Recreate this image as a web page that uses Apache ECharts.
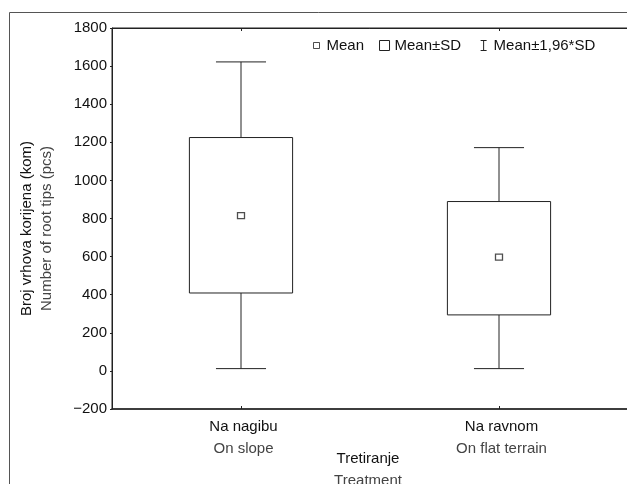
<!DOCTYPE html>
<html>
<head>
<meta charset="utf-8">
<script src="https://cdn.jsdelivr.net/npm/echarts@6/dist/echarts.min.js"></script>
<style>
html,body{margin:0;padding:0;background:#fff;}
#chart{width:627px;height:484px;}
</style>
</head>
<body>
<div id="chart"></div>
<script>
// ---- data ----
const categories = ['Na nagibu', 'Na ravnom'];
const categoriesEn = ['On slope', 'On flat terrain'];
const means = [815, 597];
const sdLow = [409, 294];
const sdHigh = [1225, 889];
const ciLow = [12, 12];
const ciHigh = [1622, 1172];
const yMin = -200, yMax = 1800, yStep = 200;
const legendNames = ['Mean', 'Mean±SD', 'Mean±1,96*SD'];

const FONT = '"Liberation Sans", Arial, sans-serif';
const DARK = '#111';
const SOFT = '#444';
const LINE = '#222';

const boxData = categories.map((c, i) => [i, sdLow[i], sdHigh[i]]);
const whiskerData = categories.map((c, i) => [i, ciLow[i], sdLow[i], sdHigh[i], ciHigh[i]]);
const meanData = categories.map((c, i) => [i, means[i]]);

const chart = echarts.init(document.getElementById('chart'));

const option = {
  animation: false,
  backgroundColor: '#fff',
  textStyle: { fontFamily: FONT },
  graphic: [{
    type: 'rect',
    left: 7, top: 10, z: -10,
    shape: { x: 0, y: 0, width: 700, height: 600 },
    style: { fill: 'none', stroke: '#555', lineWidth: 1 }
  }],
  legend: {
    left: 311, top: 38, padding: 0,
    itemWidth: 10, itemHeight: 10, itemGap: 15,
    textStyle: { fontFamily: FONT, fontSize: 15, color: DARK },
    data: [
      { name: legendNames[0], icon: 'path://M0 0M10 10M2 2h6v6h-6z',
        itemStyle: { color: '#fff', borderColor: LINE, borderWidth: 1 } },
      { name: legendNames[1], icon: 'path://M0.5 0.5h9v9h-9z',
        itemStyle: { color: '#fff', borderColor: LINE, borderWidth: 1 } },
      { name: legendNames[2], icon: 'path://M0 0M10 10M2 0h6M5 0v10M2 10h6',
        itemStyle: { color: 'none', borderColor: LINE, borderWidth: 1 } }
    ]
  },
  grid: {
    left: 112, top: 28, bottom: 75, right: -1,
    outerBoundsMode: 'none',
    containLabel: false,
    show: true, borderColor: LINE, borderWidth: 1, backgroundColor: 'transparent'
  },
  xAxis: [{
    type: 'category',
    data: categories,
    position: 'bottom',
    boundaryGap: true,
    axisLine: { show: true, onZero: false, lineStyle: { color: LINE, width: 1.5 } },
    axisTick: { show: true, inside: true, length: 3, alignWithLabel: true, lineStyle: { color: LINE } },
    axisLabel: {
      margin: 7,
      padding: [0, 0, 0, 5],
      formatter: (v, i) => '{a|' + v + '}\n{b|' + categoriesEn[i] + '}',
      rich: {
        a: { fontFamily: FONT, fontSize: 15, color: DARK, lineHeight: 22 },
        b: { fontFamily: FONT, fontSize: 15, color: SOFT, lineHeight: 22 }
      }
    },
    splitLine: { show: false },
    name: '{a|Tretiranje}\n{b|Treatment}',
    nameLocation: 'middle',
    nameGap: 39,
    nameMoveOverlap: false,
    nameTextStyle: {
      padding: [0, 4, 0, 0],
      rich: {
        a: { fontFamily: FONT, fontSize: 15, color: DARK, lineHeight: 22 },
        b: { fontFamily: FONT, fontSize: 15, color: SOFT, lineHeight: 22 }
      }
    }
  }, {
    type: 'category',
    data: categories,
    position: 'top',
    boundaryGap: true,
    axisLine: { show: true, onZero: false, lineStyle: { color: LINE, width: 1 } },
    axisTick: { show: true, inside: true, length: 3, alignWithLabel: true, lineStyle: { color: LINE } },
    axisLabel: { show: false }
  }],
  yAxis: [{
    type: 'value',
    min: yMin, max: yMax, interval: yStep,
    axisLine: { show: true, onZero: false, lineStyle: { color: LINE, width: 1 } },
    axisTick: { show: true, length: 2, lineStyle: { color: LINE } },
    splitLine: { show: false },
    axisLabel: {
      margin: 5,
      fontFamily: FONT, fontSize: 15, color: DARK,
      formatter: v => (v < 0 ? '\u2212' + Math.abs(v) : String(v))
    },
    name: '{a|Broj vrhova korijena (kom)}\n{b|Number of root tips (pcs)}',
    nameLocation: 'middle',
    nameGap: 55,
    nameMoveOverlap: false,
    nameTextStyle: {
      padding: [0, 20, 0, 0],
      rich: {
        a: { fontFamily: FONT, fontSize: 15, color: DARK, lineHeight: 20 },
        b: { fontFamily: FONT, fontSize: 15, color: SOFT, lineHeight: 20 }
      }
    }
  }],
  series: [{
    name: legendNames[2],
    type: 'custom',
    data: whiskerData,
    encode: { x: 0, y: [1, 2, 3, 4] },
    z: 2,
    renderItem: (params, api) => {
      const idx = api.value(0);
      const band = api.size([1, 0])[0];
      const half = band * 0.097;
      const pLow = api.coord([idx, api.value(1)]);
      const pBoxLow = api.coord([idx, api.value(2)]);
      const pBoxHigh = api.coord([idx, api.value(3)]);
      const pHigh = api.coord([idx, api.value(4)]);
      const st = { stroke: LINE, lineWidth: 1 };
      return {
        type: 'group',
        children: [
          { type: 'line', shape: { x1: pHigh[0], y1: pHigh[1], x2: pBoxHigh[0], y2: pBoxHigh[1] }, style: st },
          { type: 'line', shape: { x1: pLow[0], y1: pLow[1], x2: pBoxLow[0], y2: pBoxLow[1] }, style: st },
          { type: 'line', shape: { x1: pHigh[0] - half, y1: pHigh[1], x2: pHigh[0] + half, y2: pHigh[1] }, style: st },
          { type: 'line', shape: { x1: pLow[0] - half, y1: pLow[1], x2: pLow[0] + half, y2: pLow[1] }, style: st }
        ]
      };
    }
  }, {
    name: legendNames[1],
    type: 'custom',
    data: boxData,
    encode: { x: 0, y: [1, 2] },
    z: 3,
    renderItem: (params, api) => {
      const idx = api.value(0);
      const band = api.size([1, 0])[0];
      const w = band * 0.4;
      const pLow = api.coord([idx, api.value(1)]);
      const pHigh = api.coord([idx, api.value(2)]);
      return {
        type: 'rect',
        shape: { x: pLow[0] - w / 2, y: pHigh[1], width: w, height: pLow[1] - pHigh[1] },
        style: { fill: '#fff', stroke: LINE, lineWidth: 1 }
      };
    }
  }, {
    name: legendNames[0],
    type: 'scatter',
    data: meanData,
    symbol: 'rect',
    symbolSize: [7, 6],
    z: 4,
    itemStyle: { color: '#fff', borderColor: LINE, borderWidth: 1.2 }
  }]
};

chart.setOption(option);
</script>
</body>
</html>
